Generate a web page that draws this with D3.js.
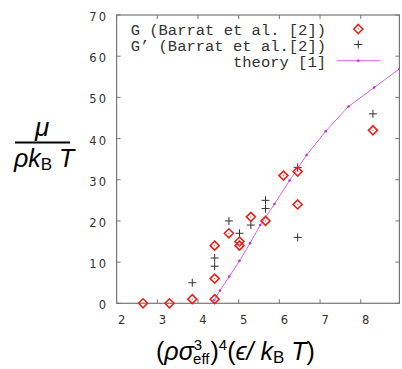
<!DOCTYPE html>
<html>
<head>
<meta charset="utf-8">
<script src="https://cdn.jsdelivr.net/npm/d3@7"></script>
<style>
  body { margin: 0; background: #fff; }
  svg { display: block; }
</style>
</head>
<body>
<script>
// G (Barrat et al.) - red diamonds
var gX = [2.65, 3.30, 3.86, 4.41, 4.41, 4.41, 4.76, 5.02, 5.02, 5.30, 5.66, 6.10, 6.45, 6.45, 8.30];
var gY = [0, 0, 1, 1, 6, 14, 17, 15, 14, 21, 20, 31, 32, 24, 42];
// G' (Barrat et al.) - crosses
var gpX = [3.86, 4.41, 4.41, 4.76, 5.02, 5.30, 5.66, 5.66, 6.45, 6.45, 8.30];
var gpY = [5, 9, 11, 20, 17, 19, 23, 25, 16, 33, 46];
// theory [1]
var thX = [4.40, 4.54, 4.77, 5.02, 5.28, 5.53, 5.88, 6.25, 6.67, 7.14, 7.70, 8.33, 8.95];
var thY = [0.8, 3.1, 6.5, 10.3, 14.6, 19.0, 24.1, 29.8, 36.0, 41.8, 47.8, 52.4, 56.9];

var xTicks = [2, 3, 4, 5, 6, 7, 8];
var yTicks = [0, 10, 20, 30, 40, 50, 60, 70];
var legendLabels = ["G (Barrat et al. [2])", "G\u2019 (Barrat et al.[2])", "theory [1]"];

var W = 402, H = 369;
var pL = 116.6, pR = 399.4, pT = 15, pB = 303.3;

var x = d3.scaleLinear().domain([2, 8.95]).range([pL, pR]);
var y = d3.scaleLinear().domain([0, 70]).range([pB, pT]);

var svg = d3.select("body").append("svg")
  .attr("width", W)
  .attr("height", H);

svg.append("defs").append("clipPath").attr("id", "clip")
  .append("rect")
  .attr("x", pL).attr("y", pT)
  .attr("width", pR - pL).attr("height", pB - pT);

var axisColor = "#777";
var textColor = "#333";

// ticks on all four sides, pointing inward
var tickLen = 4;
var frame = svg.append("g");
frame.selectAll("line.xb").data(xTicks).enter().append("line")
  .attr("x1", d => x(d)).attr("x2", d => x(d))
  .attr("y1", pB).attr("y2", pB - tickLen)
  .attr("stroke", axisColor);
frame.selectAll("line.xt").data(xTicks).enter().append("line")
  .attr("x1", d => x(d)).attr("x2", d => x(d))
  .attr("y1", pT).attr("y2", pT + tickLen)
  .attr("stroke", axisColor);
frame.selectAll("line.yl").data(yTicks).enter().append("line")
  .attr("x1", pL).attr("x2", pL + tickLen)
  .attr("y1", d => y(d)).attr("y2", d => y(d))
  .attr("stroke", axisColor);
frame.selectAll("line.yr").data(yTicks).enter().append("line")
  .attr("x1", pR).attr("x2", pR - tickLen)
  .attr("y1", d => y(d)).attr("y2", d => y(d))
  .attr("stroke", axisColor);
frame.append("rect")
  .attr("x", pL).attr("y", pT)
  .attr("width", pR - pL).attr("height", pB - pT)
  .attr("fill", "none").attr("stroke", axisColor).attr("stroke-width", 1.2);

// tick labels
svg.selectAll("text.xl").data(xTicks).enter().append("text")
  .attr("x", d => x(d) + 5).attr("y", 324)
  .attr("text-anchor", "middle")
  .attr("font-family", "DejaVu Sans").attr("font-size", 11.5)
  .attr("fill", textColor)
  .text(d => d);
svg.selectAll("text.yl").data(yTicks).enter().append("text")
  .attr("x", 108).attr("y", d => y(d) + 6)
  .attr("text-anchor", "end")
  .attr("font-family", "DejaVu Sans").attr("font-size", 11.5)
  .attr("letter-spacing", 2)
  .attr("fill", textColor)
  .text(d => d);

var plot = svg.append("g").attr("clip-path", "url(#clip)");

var thData = thX.map((d, i) => ({ x: d, y: thY[i] }));
var line = d3.line().x(d => x(d.x)).y(d => y(d.y));
var thColor = "#e060ea";
plot.append("path")
  .attr("d", line(thData))
  .attr("fill", "none")
  .attr("stroke", thColor)
  .attr("stroke-width", 1);
plot.selectAll("circle.th").data(thData).enter().append("circle")
  .attr("cx", d => x(d.x)).attr("cy", d => y(d.y))
  .attr("r", 1.3).attr("fill", "#c030d0");

function diamond(g, cx, cy) {
  var s = 4.5;
  g.append("path")
    .attr("d", "M" + cx + "," + (cy - s) + "L" + (cx + s) + "," + cy + "L" + cx + "," + (cy + s) + "L" + (cx - s) + "," + cy + "Z")
    .attr("fill", "none").attr("stroke", "#e8231c").attr("stroke-width", 1.6);
  g.append("circle").attr("cx", cx).attr("cy", cy).attr("r", 0.8).attr("fill", "#f07070");
}
function plus(g, cx, cy) {
  var s = 4;
  g.append("path")
    .attr("d", "M" + (cx - s) + "," + cy + "H" + (cx + s) + "M" + cx + "," + (cy - s) + "V" + (cy + s))
    .attr("stroke", "#333").attr("stroke-width", 1);
}

var gpData = gpX.map((d, i) => ({ x: d, y: gpY[i] }));
var gData = gX.map((d, i) => ({ x: d, y: gY[i] }));
var marks = svg.append("g");
gpData.forEach(d => plus(marks, x(d.x), y(d.y)));
gData.forEach(d => diamond(marks, x(d.x), y(d.y)));

// legend
var leg = svg.append("g");
legendLabels.forEach((t, i) => {
  leg.append("text")
    .attr("x", 326).attr("y", 35 + i * 16)
    .attr("text-anchor", "end")
    .attr("font-family", "Liberation Mono").attr("font-size", 15.5)
    .attr("fill", textColor)
    .attr("xml:space", "preserve")
    .text(t);
});
diamond(leg, 358.3, 29);
plus(leg, 358.3, 44.5);
leg.append("line")
  .attr("x1", 337).attr("x2", 380).attr("y1", 60.7).attr("y2", 60.7)
  .attr("stroke", thColor).attr("stroke-width", 1);
leg.append("circle").attr("cx", 358.3).attr("cy", 60.7).attr("r", 1.3).attr("fill", "#c030d0");

// y axis label: mu / (rho k_B T)
var lab = svg.append("g").attr("font-family", "Liberation Sans").attr("fill", "#000");
lab.append("text")
  .attr("x", 42).attr("y", 136)
  .attr("text-anchor", "middle")
  .attr("font-size", 26).attr("font-style", "italic")
  .text("\u03bc");
lab.append("line")
  .attr("x1", 15).attr("x2", 70).attr("y1", 142.5).attr("y2", 142.5)
  .attr("stroke", "#000").attr("stroke-width", 2.2);
var den = lab.append("text")
  .attr("x", 14).attr("y", 167)
  .attr("font-size", 25);
den.append("tspan").attr("font-style", "italic").text("\u03c1k");
den.append("tspan").attr("font-size", 17).attr("dy", 3).text("B");
den.append("tspan").attr("font-style", "italic").attr("dy", -3).text(" T");

// x axis label
var xl = lab.append("text")
  .attr("x", 156).attr("y", 360)
  .attr("font-size", 25);
xl.append("tspan").text("(");
xl.append("tspan").attr("font-style", "italic").text("\u03c1\u03c3");
xl.append("tspan").attr("font-size", 15).attr("dy", -10).text("3");
xl.append("tspan").attr("font-size", 15).attr("dx", -9).attr("dy", 14).text("eff");
xl.append("tspan").attr("dx", 1).attr("dy", -4).text(")");
xl.append("tspan").attr("font-size", 15).attr("dy", -10).text("4");
xl.append("tspan").attr("dy", 10).text("(");
xl.append("tspan").attr("font-style", "italic").text("\u03f5/ k");
xl.append("tspan").attr("font-size", 17).attr("dy", 3).text("B");
xl.append("tspan").attr("font-style", "italic").attr("dy", -3).text(" T");
xl.append("tspan").text(")");
</script>
</body>
</html>
